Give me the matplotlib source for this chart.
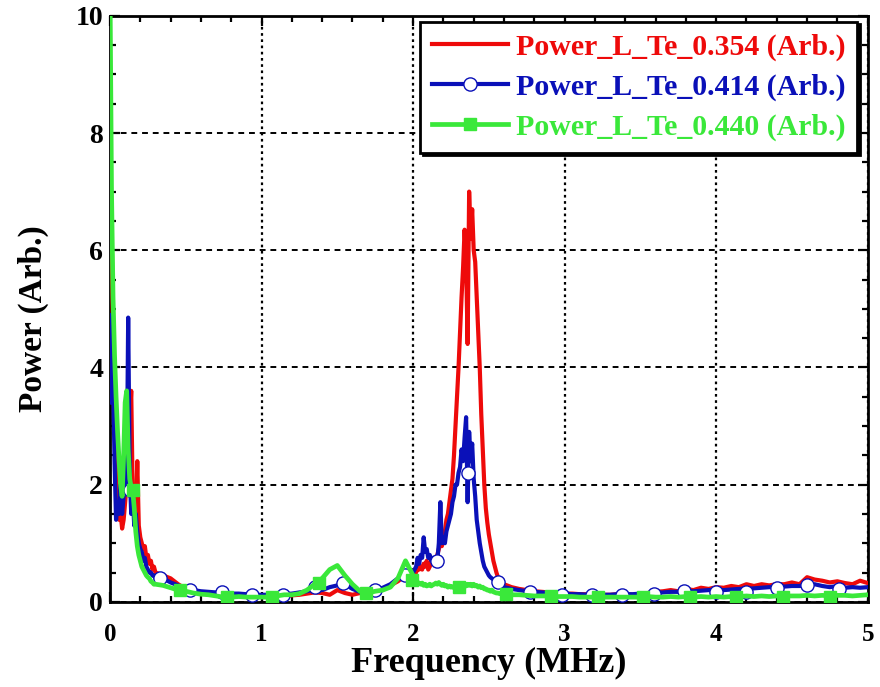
import numpy as np
import matplotlib
matplotlib.use("Agg")
import matplotlib.pyplot as plt
from matplotlib.lines import Line2D
from matplotlib.ticker import MultipleLocator

plt.rcParams['font.family'] = ['Liberation Serif', 'DejaVu Serif']
plt.rcParams['font.weight'] = 'bold'
plt.rcParams['axes.labelweight'] = 'bold'

# frequency grid (MHz) - fine steps at low f and around the 2.35 MHz mode
freq = np.round(np.concatenate([
    np.arange(0.00, 0.305, 0.01),
    np.arange(0.35, 1.955, 0.05),
    np.arange(2.00, 2.605, 0.01),
    np.arange(2.65, 5.005, 0.05),
]), 2)

# Power_L_Te_0.354
red_p = [
    # 0.00 - 0.30
    8.0, 6.5, 4.5, 3.0, 2.2, 1.7, 1.4, 1.5, 1.25, 1.4,
    1.7, 2.0, 2.4, 3.0, 3.6, 1.8, 1.6, 1.4, 2.4, 1.3,
    1.1, 1.0, 0.9, 0.95, 0.75, 0.8, 0.65, 0.7, 0.55, 0.6, 0.5,
    # 0.35 - 1.95
    0.45, 0.4, 0.3, 0.22, 0.2, 0.15, 0.14, 0.13, 0.12, 0.12,
    0.11, 0.11, 0.1, 0.1, 0.1, 0.1, 0.1, 0.11, 0.12, 0.14,
    0.16, 0.15, 0.12, 0.2, 0.15, 0.12, 0.15, 0.18, 0.2, 0.22,
    0.28, 0.35, 0.45,
    # 2.00 - 2.60
    0.5, 0.55, 0.5, 0.6, 0.55, 0.6, 0.55, 0.65, 0.6, 0.7,
    0.55, 0.6, 0.7, 0.65, 0.75, 0.7, 0.8, 0.9, 1.0, 0.95,
    1.1, 1.2, 1.4, 1.5, 1.7, 1.9, 2.1, 2.5, 3.0, 3.5,
    4.0, 4.6, 5.2, 5.7, 6.35, 5.8, 4.4, 7.0, 6.2, 6.7,
    6.0, 5.8, 5.2, 4.6, 4.0, 3.2, 2.6, 2.0, 1.6, 1.35,
    1.15, 1.0, 0.85, 0.7, 0.6, 0.5, 0.42, 0.38, 0.35, 0.32, 0.3,
    # 2.65 - 5.00
    0.25, 0.22, 0.2, 0.18, 0.17, 0.16, 0.15, 0.14, 0.14, 0.13,
    0.13, 0.13, 0.12, 0.12, 0.13, 0.13, 0.12, 0.14, 0.15, 0.17,
    0.18, 0.2, 0.18, 0.22, 0.2, 0.24, 0.22, 0.25, 0.24, 0.27,
    0.25, 0.3, 0.27, 0.3, 0.28, 0.3, 0.3, 0.33, 0.3, 0.42,
    0.38, 0.36, 0.33, 0.35, 0.32, 0.3, 0.36, 0.32,
]

# Power_L_Te_0.414
blue_p = [
    3.4, 4.9, 3.9, 2.4, 1.4, 1.7, 1.5, 2.0, 1.5, 1.8,
    2.6, 1.9, 4.85, 2.2, 1.5, 1.8, 1.3, 1.5, 1.2, 1.0,
    0.9, 0.85, 0.7, 0.75, 0.6, 0.55, 0.5, 0.5, 0.45, 0.45, 0.4,
    0.4, 0.33, 0.28, 0.22, 0.2, 0.18, 0.17, 0.16, 0.15, 0.14,
    0.14, 0.13, 0.12, 0.12, 0.12, 0.12, 0.13, 0.14, 0.16, 0.18,
    0.22, 0.2, 0.25, 0.28, 0.3, 0.22, 0.17, 0.16, 0.2, 0.24,
    0.3, 0.4, 0.45,
    0.5, 0.55, 0.6, 0.75, 0.65, 0.8, 0.75, 1.1, 0.85, 0.9,
    0.75, 0.8, 0.7, 0.75, 0.7, 0.75, 0.7, 1.0, 1.7, 1.0,
    1.1, 1.0, 1.2, 1.3, 1.4, 1.5, 1.7, 1.8, 2.0, 2.0,
    2.2, 2.3, 2.6, 2.4, 2.8, 3.15, 1.7, 2.9, 2.4, 2.7,
    2.1, 1.8, 1.4, 1.2, 1.0, 0.85, 0.7, 0.6, 0.55, 0.5,
    0.45, 0.42, 0.4, 0.38, 0.36, 0.34, 0.33, 0.3, 0.28, 0.26, 0.25,
    0.22, 0.2, 0.18, 0.17, 0.16, 0.15, 0.14, 0.14, 0.13, 0.13,
    0.12, 0.12, 0.12, 0.12, 0.13, 0.13, 0.13, 0.14, 0.14, 0.15,
    0.16, 0.17, 0.17, 0.18, 0.18, 0.19, 0.2, 0.2, 0.2, 0.21,
    0.22, 0.22, 0.23, 0.24, 0.25, 0.25, 0.26, 0.27, 0.27, 0.28,
    0.3, 0.27, 0.25, 0.27, 0.24, 0.25, 0.24, 0.25,
]

# Power_L_Te_0.440
green_p = [
    10.5, 7.0, 5.2, 4.2, 3.5, 2.9, 2.4, 2.0, 1.8, 2.5,
    3.4, 3.6, 2.6, 2.1, 1.95, 1.9, 1.6, 1.2, 0.95, 0.8,
    0.7, 0.6, 0.55, 0.5, 0.45, 0.42, 0.4, 0.35, 0.33, 0.3, 0.3,
    0.28, 0.24, 0.2, 0.18, 0.15, 0.13, 0.12, 0.1, 0.08, 0.08,
    0.09, 0.08, 0.08, 0.08, 0.08, 0.1, 0.12, 0.12, 0.14, 0.2,
    0.3, 0.4, 0.55, 0.62, 0.45, 0.3, 0.18, 0.15, 0.18, 0.2,
    0.25, 0.4, 0.7,
    0.45, 0.38, 0.35, 0.33, 0.32, 0.3, 0.32, 0.28, 0.3, 0.27,
    0.28, 0.3, 0.27, 0.29, 0.3, 0.32, 0.3, 0.33, 0.3, 0.28,
    0.3, 0.27, 0.28, 0.25, 0.27, 0.25, 0.26, 0.24, 0.25, 0.26,
    0.24, 0.25, 0.28, 0.26, 0.3, 0.27, 0.3, 0.28, 0.3, 0.27,
    0.3, 0.27, 0.28, 0.25, 0.27, 0.24, 0.25, 0.22, 0.22, 0.2,
    0.2, 0.18, 0.2, 0.17, 0.16, 0.15, 0.15, 0.14, 0.15, 0.13, 0.13,
    0.12, 0.12, 0.11, 0.1, 0.1, 0.1, 0.09, 0.09, 0.09, 0.08,
    0.08, 0.08, 0.08, 0.08, 0.08, 0.08, 0.08, 0.08, 0.09, 0.08,
    0.08, 0.09, 0.08, 0.09, 0.08, 0.09, 0.08, 0.09, 0.08, 0.09,
    0.09, 0.1, 0.09, 0.1, 0.09, 0.1, 0.1, 0.1, 0.1, 0.11,
    0.1, 0.11, 0.1, 0.11, 0.11, 0.1, 0.11, 0.12,
]

# symbol positions as drawn by the plotting program
blue_mk_f = [0.13, 0.33, 0.53, 0.74, 0.94, 1.14, 1.35, 1.54, 1.75, 1.95, 2.16, 2.36,
             2.56, 2.77, 2.98, 3.18, 3.38, 3.59, 3.79, 4.00, 4.20, 4.40, 4.60, 4.81]
blue_mk_p = [1.9, 0.4, 0.2, 0.16, 0.12, 0.12, 0.25, 0.32, 0.2, 0.45, 0.7, 2.2,
             0.34, 0.17, 0.12, 0.12, 0.12, 0.14, 0.19, 0.17, 0.17, 0.23, 0.28, 0.22]
green_mk_f = [0.15, 0.46, 0.77, 1.07, 1.38, 1.69, 1.99, 2.30, 2.61, 2.91, 3.22,
              3.52, 3.83, 4.13, 4.44, 4.75]
green_mk_p = [1.9, 0.2, 0.08, 0.08, 0.32, 0.15, 0.38, 0.25, 0.13, 0.1, 0.08,
              0.08, 0.08, 0.08, 0.09, 0.09]

labels = ['Power_L_Te_0.354 (Arb.)', 'Power_L_Te_0.414 (Arb.)', 'Power_L_Te_0.440 (Arb.)']
red, blue, green = '#ee0a0a', '#0a10b8', '#3ae83a'

assert len(freq) == len(red_p) == len(blue_p) == len(green_p)

fig = plt.figure(figsize=(8.8, 6.87), dpi=100)
ax = fig.add_axes([0.125, 0.124, 0.861, 0.853])

ax.plot(freq, red_p, color=red, lw=3.0, zorder=3)
ax.plot(freq, blue_p, color=blue, lw=3.0, zorder=4)
ax.plot(blue_mk_f, blue_mk_p, ls='none', marker='o', ms=9.5, mfc='white', mec=blue, mew=1.0, zorder=4)
ax.plot(freq, green_p, color=green, lw=3.4, zorder=5)
ax.plot(green_mk_f, green_mk_p, ls='none', marker='s', ms=9, color=green, zorder=5)

ax.set_xlim(0, 5)
ax.set_ylim(0, 10)
ax.xaxis.set_major_locator(MultipleLocator(1))
ax.xaxis.set_minor_locator(MultipleLocator(0.2))
ax.yaxis.set_major_locator(MultipleLocator(2))
ax.yaxis.set_minor_locator(MultipleLocator(0.5))
ax.tick_params(which='both', direction='in', top=True, right=True, width=1.6, colors='k')
ax.tick_params(which='major', length=7)
ax.tick_params(axis='x', which='major', pad=15, labelsize=18)
ax.tick_params(axis='y', which='major', pad=5, labelsize=20)
ax.tick_params(which='minor', length=4)
for s in ax.spines.values():
    s.set_linewidth(2)

ax.xaxis.grid(True, which='major', ls=(0, (1.2, 1.6)), color='k', lw=1.6)
ax.yaxis.grid(True, which='major', ls=(0, (3, 2.5)), color='k', lw=1.4)
ax.set_axisbelow(True)

ax.set_xlabel('Frequency (MHz)', fontsize=26, labelpad=1)
ax.set_ylabel('Power (Arb.)', fontsize=24)
ax.yaxis.set_label_coords(-0.08, 0.483)

handles = [
    Line2D([], [], color=red, lw=3.0),
    Line2D([], [], color=blue, lw=3.0, marker='o', ms=9.5, mfc='white', mec=blue, mew=1.0),
    Line2D([], [], color=green, lw=3.4, marker='s', ms=9),
]
leg = ax.legend(handles, labels, loc='upper right', bbox_to_anchor=(0.986, 0.99),
                borderaxespad=0, fancybox=False, edgecolor='k', framealpha=1,
                shadow={'color': 'k', 'alpha': 1}, fontsize=21.5, handlelength=2.55,
                handletextpad=0.25, labelspacing=0.42, borderpad=0.4, numpoints=1)
leg.get_frame().set_linewidth(2)
for txt, c in zip(leg.get_texts(), [red, blue, green]):
    txt.set_color(c)

fig.savefig('out.png', dpi=100)
